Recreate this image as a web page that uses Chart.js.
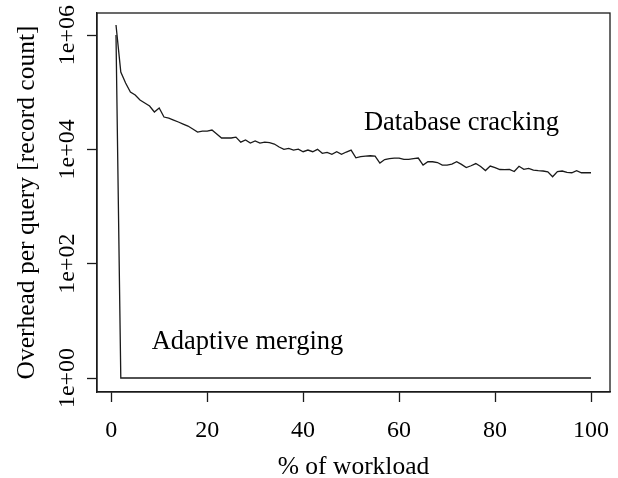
<!DOCTYPE html>
<html>
<head>
<meta charset="utf-8">
<script src="https://cdn.jsdelivr.net/npm/chart.js@4"></script>
<style>
  html, body { margin: 0; padding: 0; background: #fff; }
  canvas { display: block; }
</style>
</head>
<body>
<canvas id="overhead" width="618" height="478"></canvas>
<script>
// % of workload (x) and overhead per query for each technique
const workload = [1, 2, 3, 4, 5, 6, 7, 8, 9, 10,
  11, 12, 13, 14, 15, 16, 17, 18, 19, 20,
  21, 22, 23, 24, 25, 26, 27, 28, 29, 30,
  31, 32, 33, 34, 35, 36, 37, 38, 39, 40,
  41, 42, 43, 44, 45, 46, 47, 48, 49, 50,
  51, 52, 53, 54, 55, 56, 57, 58, 59, 60,
  61, 62, 63, 64, 65, 66, 67, 68, 69, 70,
  71, 72, 73, 74, 75, 76, 77, 78, 79, 80,
  81, 82, 83, 84, 85, 86, 87, 88, 89, 90,
  91, 92, 93, 94, 95, 96, 97, 98, 99, 100];

const crackingOverhead = [1496000, 225000, 144500, 100700, 89100, 72900, 64600, 57300, 45000, 52800,
  36800, 35300, 32600, 30100, 27700, 25600, 22700, 20100, 20900, 20900,
  21800, 18500, 15800, 15800, 15800, 16400, 13400, 14600, 12900, 14000,
  12900, 13400, 13100, 12400, 11000, 10000, 10400, 9730, 10100, 9090,
  9730, 9090, 10000, 8510, 8870, 8180, 9090, 8180, 8980, 9730,
  7130, 7490, 7640, 7730, 7640, 5770, 6640, 6910, 7050, 7050,
  6690, 6690, 6910, 7050, 5320, 6070, 6070, 5890, 5320, 5320,
  5540, 6070, 5470, 4810, 5170, 5650, 5010, 4260, 5110, 4810,
  4440, 4410, 4440, 4090, 5050, 4480, 4660, 4350, 4230, 4180,
  4060, 3320, 4090, 4180, 3960, 3900, 4230, 3900, 3900, 3900];

const mergingWorkload = [1, 2, 100];
const mergingOverhead = [1000000, 1, 1];

const xTicks = [0, 20, 40, 60, 80, 100];
const yTicks = [1, 100, 10000, 1000000];

const notes = ['Database cracking', 'Adaptive merging'];
const noteX = [73, 28.4];
const noteY = [28600, 4.26];

const serif = "'Liberation Serif', 'Times New Roman', serif";
const ink = '#1a1a1a';

const toPoints = (xs, ys) => xs.map((x, i) => ({x: x, y: ys[i]}));

const expLabel = v => {
  const e = Math.round(Math.log10(v));
  return '1e+' + String(e).padStart(2, '0');
};

// box around the plot region and the two in-plot labels
const frame = {
  id: 'frame',
  afterDraw(chart) {
    const {ctx, chartArea: a, scales} = chart;
    ctx.save();
    ctx.strokeStyle = ink;
    ctx.lineWidth = 1.3;
    ctx.strokeRect(a.left, a.top, a.right - a.left, a.bottom - a.top);
    ctx.fillStyle = '#000';
    ctx.font = '26.5px ' + serif;
    ctx.textAlign = 'center';
    ctx.textBaseline = 'middle';
    notes.forEach((t, i) => {
      ctx.fillText(t, scales.x.getPixelForValue(noteX[i]), scales.y.getPixelForValue(noteY[i]));
    });
    ctx.restore();
  }
};

new Chart(document.getElementById('overhead'), {
  type: 'line',
  data: {
    datasets: [
      {
        label: 'Database cracking',
        data: toPoints(workload, crackingOverhead),
        borderColor: ink,
        borderWidth: 1.3,
        pointRadius: 0,
        tension: 0
      },
      {
        label: 'Adaptive merging',
        data: toPoints(mergingWorkload, mergingOverhead),
        borderColor: ink,
        borderWidth: 1.3,
        pointRadius: 0,
        tension: 0
      }
    ]
  },
  options: {
    responsive: false,
    animation: false,
    devicePixelRatio: 1,
    layout: {padding: {top: 13, right: 8, bottom: 0, left: 0}},
    plugins: {legend: {display: false}, tooltip: {enabled: false}},
    scales: {
      x: {
        type: 'linear',
        min: -2.96,
        max: 103.96,
        afterBuildTicks: s => { s.ticks = xTicks.map(v => ({value: v})); },
        afterFit: s => { s.height = 86; s.paddingLeft = 0; s.paddingRight = 0; },
        grid: {drawOnChartArea: false, drawTicks: true, tickLength: 10, tickColor: ink, tickWidth: 1.3},
        border: {display: true, color: ink, width: 1.3},
        ticks: {color: '#000', font: {family: serif, size: 24}, padding: 14, maxRotation: 0},
        title: {display: true, text: '% of workload', color: '#000',
          font: {family: serif, size: 25.5, lineHeight: 0.85}, padding: 0}
      },
      y: {
        type: 'logarithmic',
        min: 0.569,
        max: 2430000,
        afterBuildTicks: s => { s.ticks = yTicks.map(v => ({value: v})); },
        afterFit: s => { s.width = 97; s.paddingTop = 0; s.paddingBottom = 0; },
        grid: {drawOnChartArea: false, drawTicks: true, tickLength: 10, tickColor: ink, tickWidth: 1.3},
        border: {display: true, color: ink, width: 1.3},
        ticks: {color: '#000', font: {family: serif, size: 24}, minRotation: 90, maxRotation: 90,
          crossAlign: 'center', padding: -10.5, callback: v => expLabel(v)},
        title: {display: true, text: 'Overhead per query [record count]', color: '#000',
          font: {family: serif, size: 25.5, lineHeight: 1}, padding: {top: 15, bottom: 0}}
      }
    }
  },
  plugins: [frame]
});
</script>
</body>
</html>
